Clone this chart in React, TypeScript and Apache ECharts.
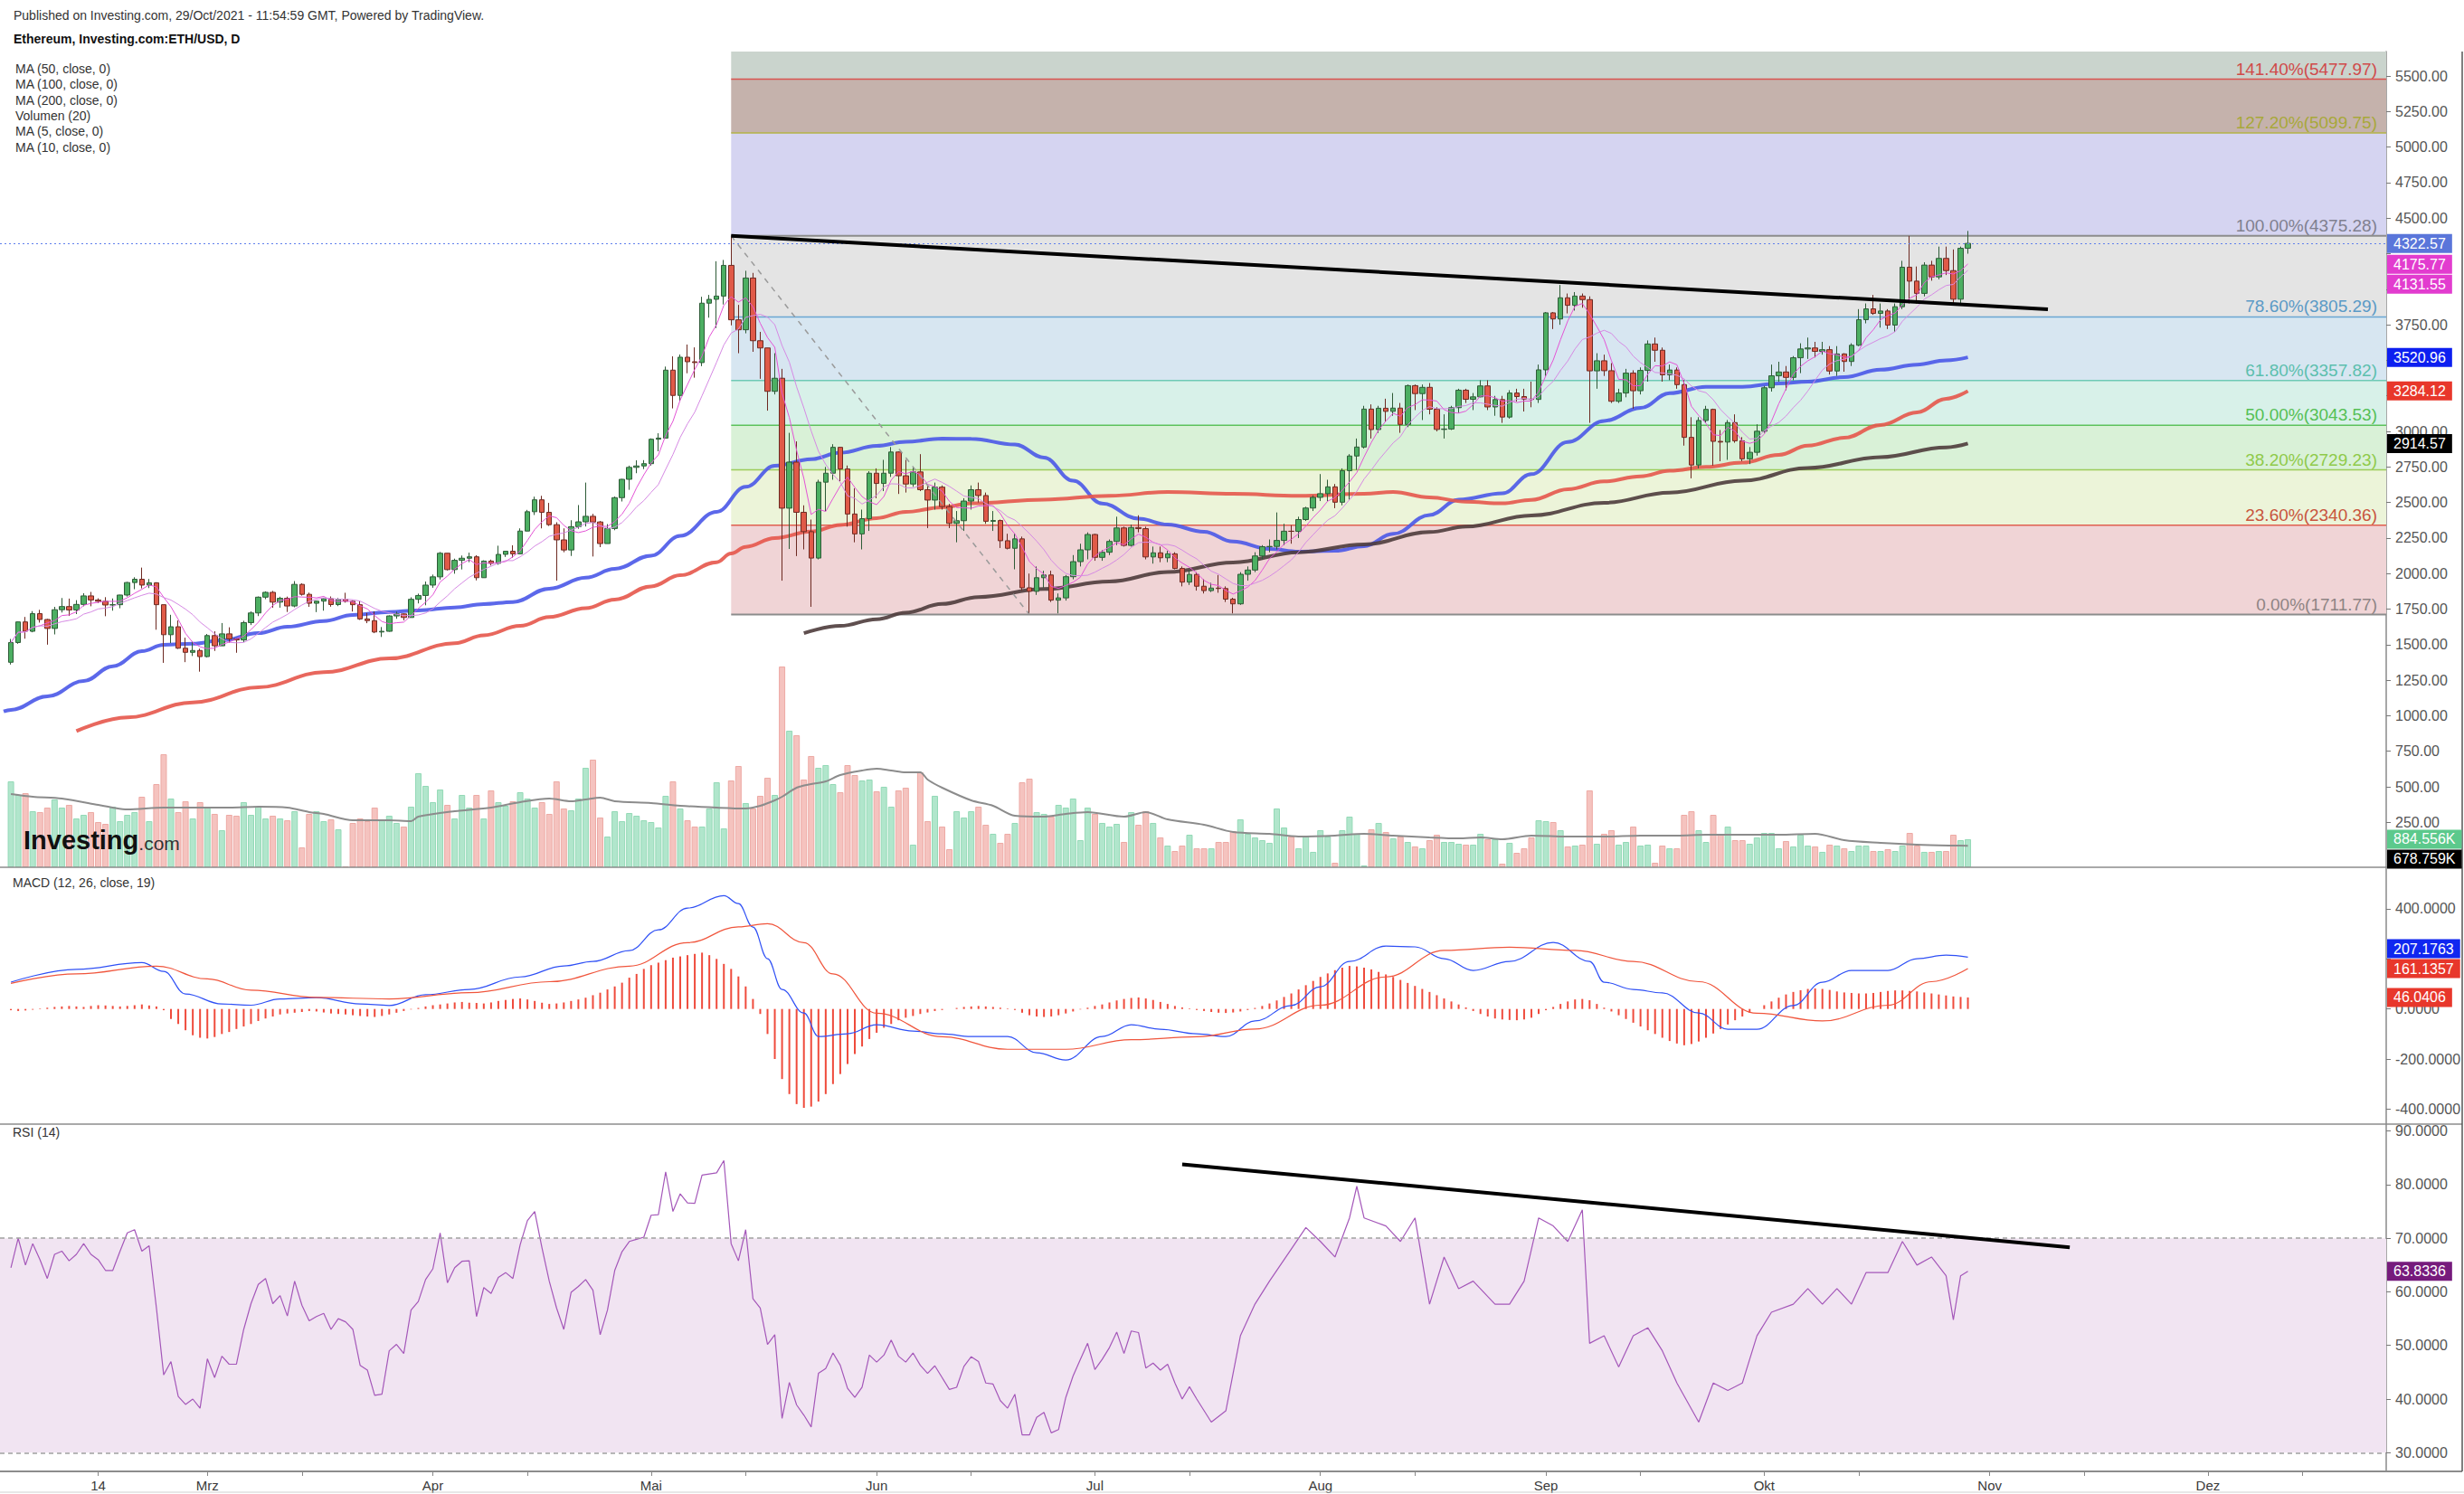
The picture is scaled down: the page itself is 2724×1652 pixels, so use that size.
import React, { useEffect, useRef } from 'react';
import * as echarts from 'echarts';

// ---------------- axis domain ----------------
const firstDay = '2021-02-01';
const dayCount = 328; // 2021-02-01 .. 2021-12-25
const tickLabels: [string, string][] = [
  ['2021-02-14', '14'], ['2021-03-01', 'Mrz'], ['2021-04-01', 'Apr'], ['2021-05-01', 'Mai'],
  ['2021-06-01', 'Jun'], ['2021-07-01', 'Jul'], ['2021-08-01', 'Aug'], ['2021-09-01', 'Sep'],
  ['2021-10-01', 'Okt'], ['2021-11-01', 'Nov'], ['2021-12-01', 'Dez'],
];
const minorTicks = ['2021-03-14', '2021-04-14', '2021-05-14', '2021-06-14', '2021-07-14', '2021-08-14',
  '2021-09-14', '2021-10-14', '2021-11-14', '2021-12-14'];
const firstCandleDay = 1; // 2021-02-02 (days since 2021-02-01)
const firstOpen = 1376;

// ---------------- daily candles (2021-02-02 .. 2021-10-29) ----------------
const closes = [
  1515, 1660, 1594, 1718, 1677, 1614, 1746, 1768, 1744, 1783, 1843, 1814, 1805, 1779, 1781, 1849, 1937, 1960, 1919, 1935, 1781, 1570, 1626, 1475, 1446, 1459, 1416,
  1564, 1492, 1576, 1541, 1533, 1655, 1723, 1834, 1868, 1799, 1826, 1772, 1924, 1854, 1791, 1806, 1823, 1782, 1819, 1805, 1781, 1681, 1669, 1589, 1594, 1702, 1716, 1691, 1819, 1846, 1919,
  1977, 2143, 2028, 2093, 2108, 2118, 1971, 2088, 2072, 2135, 2157, 2139, 2299, 2435, 2519, 2431, 2344, 2237, 2166, 2330, 2364, 2403, 2363, 2211, 2317, 2534, 2663, 2747, 2757, 2773,
  2945, 2953, 3431, 3253, 3522, 3490, 3484, 3902, 3929, 3952, 4168, 3785, 3715, 4079, 3638, 3587, 3282, 3374, 2460, 2784, 2431, 2295, 2109, 2643, 2706, 2888, 2736, 2419, 2279, 2386, 2706,
  2634, 2706, 2855, 2688, 2630, 2715, 2590, 2517, 2608, 2471, 2353, 2372, 2510, 2590, 2549, 2368, 2373, 2231, 2178, 2244, 1900, 1875, 1971, 1990, 1813, 1829, 1978, 2084, 2167, 2275,
  2114, 2150, 2226, 2321, 2198, 2324, 2316, 2117, 2146, 2111, 2139, 2036, 1940, 1994, 1911, 1880, 1898, 1895, 1820, 1787, 1995, 2025, 2124, 2189, 2191, 2233, 2298, 2297, 2380, 2461, 2536,
  2562, 2610, 2502, 2724, 2827, 2890, 3157, 3013, 3163, 3141, 3164, 3049, 3322, 3266, 3310, 3156, 3014, 3017, 3167, 3290, 3226, 3243, 3320, 3172, 3224, 3101, 3270, 3245, 3227, 3225, 3433,
  3834, 3791, 3940, 3887, 3952, 3927, 3426, 3497, 3427, 3212, 3270, 3410, 3286, 3429, 3615, 3571, 3398, 3432, 3329, 2958, 2764, 3077, 3155, 2930, 2925, 3062, 2934, 2807, 2853, 3001,
  3307, 3391, 3418, 3380, 3518, 3580, 3587, 3563, 3575, 3425, 3545, 3492, 3606, 3786, 3862, 3830, 3847, 3748, 3877, 4155, 4057, 3971, 4170, 4087, 4217, 4131, 3930, 4288, 4322.57,
];
const highs = [
  1540, 1661, 1695, 1736, 1745, 1681, 1766, 1828, 1824, 1813, 1862, 1871, 1826, 1834, 1825, 1851, 1942, 1974, 2042, 1962, 1939, 1780, 1710, 1670, 1549, 1525, 1472,
  1575, 1594, 1652, 1622, 1545, 1668, 1734, 1839, 1875, 1878, 1837, 1838, 1947, 1931, 1866, 1810, 1826, 1839, 1828, 1865, 1812, 1808, 1723, 1734, 1624, 1706, 1732, 1720, 1833, 1859, 1944,
  1993, 2152, 2144, 2105, 2127, 2147, 2129, 2093, 2098, 2196, 2158, 2199, 2318, 2448, 2541, 2547, 2497, 2361, 2318, 2375, 2482, 2640, 2420, 2370, 2348, 2542, 2666, 2759, 2797, 2798,
  2951, 2987, 3456, 3528, 3541, 3611, 3591, 3947, 3960, 4197, 4206, 4375, 3890, 4130, 4115, 3700, 3588, 3550, 3440, 2990, 2930, 2480, 2380, 2660, 2750, 2910, 2890, 2760, 2600, 2450, 2720,
  2740, 2800, 2890, 2860, 2800, 2745, 2840, 2620, 2640, 2620, 2490, 2440, 2530, 2620, 2640, 2570, 2440, 2380, 2280, 2280, 2260, 2000, 2050, 2020, 2020, 1860, 1990, 2130, 2210, 2290,
  2280, 2165, 2240, 2400, 2330, 2345, 2410, 2330, 2190, 2190, 2160, 2150, 2050, 2025, 2010, 1960, 1935, 1990, 1910, 1830, 2010, 2050, 2150, 2200, 2240, 2430, 2350, 2340, 2400, 2470, 2550,
  2700, 2660, 2630, 2740, 2840, 2950, 3180, 3190, 3180, 3230, 3270, 3200, 3330, 3330, 3330, 3340, 3170, 3120, 3180, 3300, 3300, 3270, 3360, 3360, 3250, 3250, 3290, 3300, 3300, 3350, 3470,
  3840, 3840, 4030, 3970, 3980, 3970, 3950, 3550, 3540, 3480, 3300, 3440, 3430, 3450, 3640, 3660, 3590, 3470, 3450, 3360, 3100, 3100, 3180, 3160, 3010, 3080, 3120, 2960, 2890, 3050,
  3320, 3470, 3490, 3460, 3530, 3620, 3660, 3630, 3630, 3600, 3600, 3550, 3620, 3860, 3900, 3960, 3900, 3860, 3900, 4200, 4375, 4160, 4190, 4200, 4300, 4300, 4280, 4300, 4410,
];
const lows = [
  1360, 1506, 1542, 1587, 1655, 1500, 1572, 1726, 1702, 1715, 1770, 1770, 1793, 1700, 1739, 1756, 1838, 1890, 1896, 1898, 1605, 1372, 1511, 1470, 1377, 1420, 1310,
  1410, 1456, 1491, 1512, 1443, 1518, 1638, 1701, 1820, 1759, 1760, 1730, 1763, 1845, 1766, 1729, 1739, 1767, 1771, 1796, 1733, 1674, 1651, 1581, 1554, 1591, 1682, 1671, 1690, 1790, 1777,
  1900, 1958, 2022, 1999, 2029, 2080, 1952, 1970, 2057, 2062, 2117, 2112, 2137, 2298, 2412, 2318, 2335, 1950, 2150, 2124, 2315, 2331, 2120, 2186, 2214, 2305, 2507, 2589, 2706, 2735,
  2760, 2860, 2955, 3162, 3213, 3409, 3378, 3459, 3800, 3727, 3893, 3746, 3550, 3690, 3560, 3370, 3146, 3260, 1950, 2173, 2123, 2170, 1766, 2100, 2440, 2660, 2650, 2330, 2220, 2170, 2300,
  2530, 2580, 2680, 2560, 2570, 2610, 2580, 2320, 2450, 2450, 2320, 2220, 2300, 2450, 2500, 2350, 2300, 2180, 2170, 2030, 1880, 1712, 1850, 1900, 1800, 1720, 1810, 1960, 2050, 2100,
  2090, 2090, 2130, 2200, 2190, 2190, 2290, 2100, 2070, 2080, 2080, 2030, 1910, 1920, 1880, 1860, 1870, 1865, 1800, 1720, 1780, 1950, 2010, 2100, 2150, 2170, 2200, 2210, 2250, 2370, 2440,
  2510, 2510, 2460, 2480, 2520, 2730, 2880, 2950, 2990, 3070, 3110, 2990, 3030, 3150, 3080, 3120, 3000, 2950, 3010, 3130, 3200, 3150, 3240, 3150, 3110, 3060, 3090, 3210, 3140, 3170, 3200,
  3390, 3720, 3750, 3830, 3850, 3870, 3060, 3300, 3390, 3200, 3200, 3240, 3160, 3260, 3350, 3490, 3350, 3360, 3300, 2900, 2670, 2740, 3060, 2760, 2790, 2800, 2920, 2790, 2770, 2830,
  2990, 3280, 3350, 3290, 3360, 3410, 3510, 3520, 3540, 3400, 3390, 3420, 3460, 3600, 3760, 3820, 3730, 3720, 3700, 3860, 3900, 3900, 3950, 4060, 4070, 4100, 3900, 3900, 4250,
];
// daily volume, thousands
const volumesK = [
  2708, 2280, 2337, 1767, 1739, 1881, 2138, 1881, 1967, 1539, 1653, 1739, 1425, 1368, 1910, 1454, 1653, 1739, 2223, 1454,
  2622, 3563, 2166, 1739, 2081, 1539, 2052, 1881, 1682, 1169, 1653, 1625, 2052, 1653, 1910, 1539, 1625, 1539, 1482, 1767,
  627, 1682, 1767, 1454, 1511, 1197, 29, 1397, 1539, 1454, 1881, 1482, 1625, 1397, 1283, 1910, 2964, 2565, 2052, 2451,
  1967, 1539, 2280, 1881, 2280, 1539, 2423, 2052, 1938, 2081, 2366, 2166, 1881, 2052, 1682, 2708, 1853, 1796, 2166, 3135,
  3392, 1568, 969, 1767, 1454, 1710, 1625, 1482, 1425, 1254, 2252, 2708, 1853, 1482, 1283, 1283, 1853, 2679, 1226, 2736,
  3192, 2024, 1853, 2252, 2822, 2280, 6327, 4304, 4161, 2765, 3506, 3135, 3221, 2622, 2366, 3221, 2907, 2736, 2765, 2394,
  2537, 1910, 2423, 2508, 713, 2993, 1454, 2252, 1283, 570, 1767, 1568, 1767, 1910, 1340, 1055, 770, 1055, 1397, 2679,
  2793, 1739, 1682, 1596, 1967, 1881, 2166, 855, 1881, 1682, 1397, 1283, 1368, 798, 1739, 1340, 1767, 1397, 941, 684,
  513, 684, 1026, 599, 599, 599, 798, 798, 1140, 1511, 1055, 941, 855, 770, 1853, 1254, 969, 599, 969, 485,
  1169, 969, 143, 1169, 1596, 1055, 57, 1197, 1397, 1112, 912, 969, 798, 656, 599, 855, 1026, 798, 798, 741,
  713, 713, 1055, 884, 884, 114, 770, 456, 599, 941, 1482, 1454, 1425, 1169, 656, 684, 713, 2423, 741, 1055,
  1169, 713, 798, 1283, 684, 713, 143, 684, 599, 599, 1653, 1767, 1169, 798, 1653, 1026, 1283, 855, 855, 741,
  941, 1083, 1083, 599, 827, 656, 1026, 684, 656, 485, 713, 684, 599, 513, 684, 684, 513, 513, 570, 513,
  684, 1083, 684, 485, 485, 513, 513, 1026, 855, 885,
];

// ---------------- indicator lines: [day since 2021-02-01, value] ----------------
const ma50Points = [[0, 1030], [1, 1041], [6, 1136], [11, 1244], [15, 1348], [19, 1454], [22, 1499], [26, 1507], [30, 1530], [35, 1581], [39, 1626], [44, 1666], [48, 1709], [53, 1730], [57, 1741], [62, 1762], [66, 1785], [70, 1800], [75, 1894], [80, 1971], [84, 2033], [89, 2126], [93, 2265], [98, 2434], [102, 2610], [106, 2758], [111, 2804], [115, 2850], [120, 2898], [124, 2927], [129, 2949], [133, 2948], [139, 2908], [143, 2816], [147, 2653], [151, 2493], [156, 2386], [160, 2345], [165, 2294], [169, 2225], [174, 2173], [178, 2154], [183, 2160], [187, 2192], [191, 2279], [196, 2412], [200, 2520], [206, 2564], [210, 2699], [215, 2925], [220, 3074], [225, 3165], [229, 3269], [234, 3314], [239, 3314], [244, 3338], [248, 3350], [253, 3382], [258, 3434], [263, 3470], [267, 3500], [270, 3521]];
const ma100Points = [[10, 892], [17, 989], [26, 1094], [35, 1200], [44, 1306], [53, 1403], [62, 1510], [66, 1566], [71, 1632], [75, 1694], [80, 1756], [84, 1817], [89, 1910], [93, 1988], [98, 2080], [100, 2141], [102, 2188], [106, 2250], [111, 2295], [115, 2342], [120, 2390], [124, 2434], [129, 2466], [133, 2494], [143, 2520], [152, 2547], [160, 2574], [169, 2561], [178, 2547], [187, 2561], [191, 2574], [196, 2536], [201, 2505], [206, 2494], [210, 2519], [215, 2593], [220, 2648], [225, 2684], [229, 2723], [234, 2750], [239, 2780], [244, 2835], [248, 2900], [253, 2955], [258, 3045], [263, 3134], [267, 3230], [270, 3284]];
const ma200Points = [[110, 1581], [115, 1632], [120, 1679], [124, 1725], [129, 1786], [134, 1835], [143, 1891], [152, 1944], [160, 2011], [169, 2078], [178, 2150], [187, 2205], [196, 2292], [201, 2330], [210, 2409], [220, 2498], [229, 2569], [239, 2653], [248, 2743], [258, 2819], [267, 2888], [270, 2915]];
const volMaPoints = [[1, 2309], [4, 2223], [8, 2166], [13, 1967], [15, 1881], [17, 1824], [22, 1881], [26, 1881], [31, 1881], [35, 1910], [39, 1881], [42, 1739], [44, 1682], [48, 1482], [53, 1482], [56, 1454], [57, 1596], [62, 1767], [67, 1881], [71, 2052], [75, 2166], [78, 2081], [80, 2138], [82, 2195], [84, 2081], [89, 2024], [93, 1938], [98, 1881], [102, 1853], [104, 1938], [106, 2109], [107, 2223], [109, 2508], [111, 2622], [113, 2708], [115, 2907], [118, 3050], [120, 3107], [122, 3050], [124, 2993], [126, 2993], [127, 2765], [129, 2508], [133, 2109], [136, 1938], [139, 1625], [143, 1596], [146, 1682], [149, 1739], [154, 1596], [157, 1739], [160, 1511], [165, 1340], [169, 1112], [174, 1055], [178, 969], [183, 998], [187, 1055], [191, 998], [196, 941], [200, 912], [203, 941], [206, 884], [210, 998], [215, 969], [220, 969], [225, 998], [230, 998], [234, 1026], [239, 1026], [244, 1026], [249, 1055], [253, 855], [258, 770], [263, 713], [268, 684], [270, 679]];
const macdPoints = [[1, 107], [10, 158], [19, 185], [22, 150], [25, 60], [30, 20], [34, 15], [38, 40], [43, 45], [49, 20], [53, 14], [58, 57], [64, 78], [71, 128], [77, 172], [81, 190], [86, 233], [90, 316], [94, 403], [99, 453], [101, 421], [103, 327], [105, 201], [107, 78], [110, -16], [112, -110], [116, -99], [120, -63], [125, -88], [129, -99], [133, -110], [138, -110], [142, -175], [146, -204], [151, -110], [155, -63], [159, -81], [164, -99], [168, -110], [172, -48], [177, 14], [181, 89], [185, 190], [190, 251], [194, 248], [198, 201], [202, 154], [207, 190], [213, 266], [218, 190], [220, 107], [224, 78], [228, 64], [233, -16], [237, -81], [241, -81], [246, 14], [250, 107], [254, 154], [259, 154], [263, 201], [267, 215], [270, 207.18]];
const signalPoints = [[1, 102], [10, 140], [21, 171], [28, 120], [34, 75], [43, 46], [53, 40], [64, 65], [75, 109], [86, 171], [94, 265], [101, 328], [105, 341], [110, 265], [114, 140], [120, -17], [129, -111], [138, -161], [146, -161], [155, -123], [164, -111], [172, -80], [181, 15], [190, 128], [198, 234], [207, 247], [216, 234], [224, 190], [233, 109], [241, -17], [250, -48], [259, 15], [265, 109], [270, 161.14]];
// MACD histogram, daily from 2021-02-02
const macdHist = [
  -5, -8, -6, -3, 2, 5, 8, 10, 12, 10, 8, 12, 15, 14, 12, 10, 12, 15, 18, 14,
  10, -5, -40, -60, -85, -105, -115, -118, -112, -100, -92, -80, -70, -60, -48, -38, -30, -22, -18, -15,
  -12, -8, -10, -14, -18, -20, -22, -25, -28, -30, -32, -28, -22, -15, -8, -2, 4, 10, 15, 18,
  22, 26, 28, 25, 24, 22, 26, 32, 36, 40, 42, 38, 32, 25, 20, 22, 26, 32, 38, 45,
  55, 65, 78, 90, 105, 125, 140, 160, 175, 185, 195, 205, 210, 215, 220, 225, 215, 200, 180, 160,
  130, 90, 40, -20, -100, -200, -280, -340, -380, -395, -390, -370, -340, -300, -260, -220, -180, -150, -120, -95,
  -75, -60, -45, -35, -28, -20, -14, -8, -4, 0, 4, 8, 10, 12, 10, 8, 5, 2, -4, -15,
  -25, -30, -32, -30, -25, -18, -10, -2, 5, 12, 18, 26, 34, 40, 44, 46, 42, 36, 28, 20,
  12, 6, 2, -4, -8, -12, -15, -16, -14, -10, -4, 4, 12, 22, 34, 48, 62, 78, 95, 112,
  128, 142, 155, 165, 172, 170, 165, 158, 148, 138, 128, 116, 104, 92, 80, 68, 55, 42, 30, 18,
  6, -8, -20, -30, -38, -42, -44, -45, -42, -35, -20, -5, 8, 20, 30, 38, 40, 35, 20, 5,
  -10, -25, -40, -55, -70, -85, -100, -115, -128, -138, -145, -140, -130, -115, -98, -80, -62, -45, -30, -15,
  0, 15, 30, 45, 58, 68, 75, 80, 82, 80, 76, 70, 66, 64, 62, 62, 64, 68, 72, 74,
  74, 72, 70, 66, 62, 58, 54, 50, 48, 46.04,
];
// RSI daily from 2021-02-02 (first 163 days), then points
const rsiDaily = [
  64.5, 70, 65, 69, 66, 62.5, 67, 67.6, 65.8, 67, 69, 67, 66, 64, 64, 67.6, 71, 71.6, 67.6, 68.6,
  57, 44.5, 47, 40.5, 39, 40, 38.3, 47.5, 44, 48, 46.5, 46.5, 53, 57.8, 61.4, 62.5, 57.8, 59.3, 55.5, 62,
  57.5, 54.6, 55.4, 56, 53, 55, 54.4, 53, 46.3, 45.4, 40.7, 40.9, 49, 50.2, 48.5, 56.6, 58.2, 62.3, 64.3, 71,
  61.7, 64.5, 65.7, 65.8, 55.4, 60.8, 59.7, 62.7, 63.6, 62.5, 68.8, 73.3, 75, 68.2, 62, 57, 53, 59.9, 61, 62.3,
  60.3, 52, 56.6, 64, 67.5, 69.4, 69.8, 70.2, 74.3, 74.4, 82.4, 75, 78.3, 76.6, 76.5, 81.8, 82, 82.2, 84.5, 69,
  65.8, 71.6, 58.7, 57, 50.2, 52, 36.4, 43.1, 38.9, 37, 34.8, 44.8, 45.7, 48.6, 46.3, 42, 40.3, 42.2, 48.2, 46.9,
  48.2, 51, 48, 46.9, 48.6, 46.3, 44.8, 46.2, 44, 41.8, 42.2, 46.1, 47.9, 47, 43, 42.8, 39.7, 38.3, 40.9, 33.3,
  33.3, 36.6, 37.5, 33.7, 34.3, 40.3, 44.3, 47.4, 50.4, 45.5, 47.4, 49.6, 52.5, 48.5, 52.7, 52.4, 45.8, 46.7, 45.4, 46.5,
  43, 40, 42.3,
];
const rsiLatePoints = [[164, 40], [166, 35.7], [168, 37.8], [170, 51.8], [172, 57.7], [174, 62], [177, 68], [179, 72], [181, 69.4], [183, 66.5], [185, 73.8], [186, 79.7], [187, 73.8], [190, 72.3], [192, 69.4], [194, 73.8], [196, 57.7], [198, 66.5], [200, 60.6], [202, 62], [205, 57.7], [207, 57.7], [209, 62], [211, 73.8], [213, 72.3], [215, 69.4], [217, 75.3], [218, 50.4], [220, 51.8], [222, 46], [224, 51.8], [226, 53.3], [228, 49], [230, 43], [233, 35.7], [235, 43], [237, 41.6], [239, 43], [241, 51.8], [243, 56.2], [246, 57.7], [248, 60.6], [250, 57.7], [252, 60.6], [254, 57.7], [256, 63.6], [259, 63.6], [261, 69.4], [263, 65], [265, 66.5], [267, 63], [268, 54.8], [269, 63], [270, 63.83]];

// ---------------- drawings ----------------
const fibStartDay = '2021-05-12';
const fibLevels = [0, 23.6, 38.2, 50, 61.8, 78.6, 100, 127.2, 141.4];
const fibPrices = [1711.77, 2340.36, 2729.23, 3043.53, 3357.82, 3805.29, 4375.28, 5099.75, 5477.97];
const priceTrend = [['2021-05-12', 4375.28], ['2021-11-09', 3859]];
const fibDiagonal = [['2021-05-12', 4375.28], ['2021-06-22', 1711.77]];
const rsiTrend = [['2021-07-13', 83.8], ['2021-11-12', 68.3]];

// ---------------- axis labels ----------------
const priceTicks = [250, 500, 750, 1000, 1250, 1500, 1750, 2000, 2250, 2500, 2750, 3000, 3250, 3500, 3750, 4000, 4250, 4500, 4750, 5000, 5250, 5500];
const priceLabels = [250, 500, 750, 1000, 1250, 1500, 1750, 2000, 2250, 2500, 2750, 3000, 3750, 4500, 4750, 5000, 5250, 5500];
const macdTicks = [-400, -200, 0, 200, 400];
const macdLabels = [-400, -200, 0, 400];
const rsiTicks = [30, 40, 50, 60, 70, 80, 90];
const priceBoxes = [
  { v: 4322.57, t: '4322.57', bg: '#5a76da' }, { v: 4175.77, t: '4175.77', bg: '#e23ccf' },
  { v: 4131.55, t: '4131.55', bg: '#e23ccf' }, { v: 3520.96, t: '3520.96', bg: '#0d1ff0' },
  { v: 3284.12, t: '3284.12', bg: '#e8372b' }, { v: 2914.57, t: '2914.57', bg: '#000000' },
];
const volumeBoxes = [{ v: 884.556, t: '884.556K', bg: '#5cc98c' }, { v: 678.759, t: '678.759K', bg: '#000000' }];
const macdBoxes = [{ v: 207.1763, t: '207.1763', bg: '#1027f0' }, { v: 161.1357, t: '161.1357', bg: '#e8372b' }, { v: 46.0406, t: '46.0406', bg: '#e8372b' }];
const rsiBoxes = [{ v: 63.8336, t: '63.8336', bg: '#761b7c' }];
const legendLines = ['MA (50, close, 0)', 'MA (100, close, 0)', 'MA (200, close, 0)', 'Volumen (20)', 'MA (5, close, 0)', 'MA (10, close, 0)'];

// ---------------- style ----------------
const FONT = "'Liberation Sans', Arial, Helvetica, sans-serif";
const W = 2724;
const PLOT_R = 2638;
const GRID_RIGHT = W - PLOT_R;
const PRICE_TOP = 57;
const fibFills = ['#f0d4d6', '#ecf4d9', '#d9f1d7', '#d8f1e9', '#d7e6f1', '#e4e4e4', '#d5d4f1', '#c5b2ac', '#cad4cd'];
const fibLineColors = ['#8c8c8c', '#e0604f', '#9ccc5a', '#5cc25c', '#6fcab6', '#6aa6d2', '#8c8c8c', '#b3b347', '#d9534f'];
const fibTextColors = ['#8e8484', '#c8553d', '#8fca4a', '#55c055', '#5cbfae', '#5b9ac6', '#80808f', '#a8a83a', '#d04a4a'];

function buildDays() {
  const out: string[] = [];
  const d = new Date(firstDay + 'T00:00:00Z');
  for (let i = 0; i < dayCount; i++) {
    out.push(d.toISOString().slice(0, 10));
    d.setUTCDate(d.getUTCDate() + 1);
  }
  return out;
}

function sma(n: number) {
  return closes.map((_, i) => {
    const s = closes.slice(Math.max(0, i - n + 1), i + 1);
    return [i + firstCandleDay, s.reduce((a, b) => a + b, 0) / s.length];
  });
}

function buildOption() {
  const cats = buildDays();
  const labelMap: Record<string, string> = Object.fromEntries(tickLabels);
  const tickSet = new Set([...tickLabels.map((t) => t[0]), ...minorTicks]);
  const opens = closes.map((c, i) => (i === 0 ? firstOpen : closes[i - 1]));
  const candle = closes.map((c, i) => [i + firstCandleDay, opens[i], c,
    Math.min(lows[i], opens[i], c), Math.max(highs[i], opens[i], c)]);
  const vol = volumesK.map((v, i) => {
    const up = closes[i] >= opens[i];
    return { value: [i + firstCandleDay, v], itemStyle: { color: up ? '#b1e6cc' : '#f5c3bf', borderColor: up ? '#93d9b6' : '#eda9a4', borderWidth: 1 } };
  });
  const hist = macdHist.map((v, i) => [i + firstCandleDay, v]);
  const rsi = rsiDaily.map((v, i) => [i + firstCandleDay, v]).concat(rsiLatePoints);

  const xBase = (gi: number) => ({
    type: 'category', gridIndex: gi, data: cats, boundaryGap: true,
    axisLine: { show: false }, axisTick: { show: false }, axisLabel: { show: false }, splitLine: { show: false },
  });
  const yBase = (gi: number, min: number, max: number, ticks: number[], labels: number[], dec: number) => ({
    type: 'value', gridIndex: gi, position: 'right', min, max, scale: false,
    axisLine: { show: true, lineStyle: { color: '#8a8a8a', width: 1.5 } },
    axisTick: { show: true, length: 5, customValues: ticks, lineStyle: { color: '#777' } },
    axisLabel: { show: true, customValues: labels, formatter: (v: number) => Number(v).toFixed(dec), color: '#555', fontSize: 16, fontFamily: FONT, margin: 10 },
    splitLine: { show: false },
  });
  const thickLine = (data: any, color: string) => ({
    type: 'line', xAxisIndex: 0, yAxisIndex: 0, data, symbol: 'none', smooth: 0.4, smoothMonotone: 'x', z: 2,
    lineStyle: { color, width: 4, opacity: 0.9 }, silent: true,
  });
  return {
    animation: false,
    backgroundColor: '#ffffff',
    grid: [
      { left: 0, right: GRID_RIGHT, top: PRICE_TOP, height: 902 },
      { left: 0, right: GRID_RIGHT, top: 729, height: 230 },
      { left: 0, right: GRID_RIGHT, top: 959, height: 284 },
      { left: 0, right: GRID_RIGHT, top: 1243, height: 384 },
    ],
    xAxis: [xBase(0), xBase(1), xBase(2), {
      ...xBase(3),
      axisTick: { show: true, alignWithLabel: true, length: 5, interval: (_i: number, v: string) => tickSet.has(v), lineStyle: { color: '#888' } },
      axisLabel: { show: true, interval: (_i: number, v: string) => v in labelMap, formatter: (v: string) => labelMap[v] || '', color: '#3a3a3a', fontSize: 15, fontFamily: FONT, margin: 8 },
    }],
    yAxis: [
      yBase(0, -66, 5672, priceTicks, priceLabels, 2),
      { type: 'value', gridIndex: 1, min: 0, max: 6555, show: false, splitLine: { show: false } },
      yBase(2, -460, 566, macdTicks, macdLabels, 4),
      yBase(3, 26.5, 91.3, rsiTicks, rsiTicks, 4),
    ],
    series: [
      thickLine(ma50Points, '#4a58e8'),
      thickLine(ma100Points, '#e5574b'),
      thickLine(ma200Points, '#4e3c3c'),
      {
        type: 'candlestick', xAxisIndex: 0, yAxisIndex: 0, data: candle, encode: { x: 0, y: [1, 2, 3, 4] }, barWidth: 6, z: 3,
        itemStyle: { color: '#4caf62', color0: '#e05a48', borderColor: '#2e5b37', borderColor0: '#6d2a22', borderWidth: 1 },
        markLine: {
          silent: true, symbol: ['none', 'none'], label: { show: false },
          lineStyle: { type: [2, 3], color: '#5f7fec', width: 1.2 },
          data: [{ yAxis: closes[closes.length - 1] }],
        },
      },
      { type: 'line', xAxisIndex: 0, yAxisIndex: 0, data: sma(5), symbol: 'none', z: 4, lineStyle: { color: '#e454d6', width: 1 }, silent: true },
      { type: 'line', xAxisIndex: 0, yAxisIndex: 0, data: sma(10), symbol: 'none', z: 4, lineStyle: { color: '#d68ae4', width: 1 }, silent: true },
      { type: 'line', xAxisIndex: 0, yAxisIndex: 0, data: fibDiagonal, symbol: 'none', z: 4, lineStyle: { color: '#9a9a9a', width: 1.5, type: [6, 6] }, silent: true },
      { type: 'line', xAxisIndex: 0, yAxisIndex: 0, data: priceTrend, symbol: 'none', z: 6, lineStyle: { color: '#000', width: 4 }, silent: true },
      { type: 'bar', xAxisIndex: 1, yAxisIndex: 1, data: vol, barWidth: 7, z: 1, silent: true },
      { type: 'line', xAxisIndex: 1, yAxisIndex: 1, data: volMaPoints, symbol: 'none', z: 3, smooth: 0.3, lineStyle: { color: '#8c8c8c', width: 2 }, silent: true },
      { type: 'bar', xAxisIndex: 2, yAxisIndex: 2, data: hist, barWidth: 2, itemStyle: { color: '#ef4b3c' }, silent: true },
      { type: 'line', xAxisIndex: 2, yAxisIndex: 2, data: macdPoints, symbol: 'none', smooth: 0.4, smoothMonotone: 'x', lineStyle: { color: '#2f50f5', width: 1.2 }, silent: true },
      { type: 'line', xAxisIndex: 2, yAxisIndex: 2, data: signalPoints, symbol: 'none', smooth: 0.4, smoothMonotone: 'x', lineStyle: { color: '#f0553c', width: 1.2 }, silent: true },
      {
        type: 'line', xAxisIndex: 3, yAxisIndex: 3, data: rsi, symbol: 'none', z: 3, lineStyle: { color: '#a457b9', width: 1.2 }, silent: true,
        markArea: { silent: true, itemStyle: { color: '#f1e4f2' }, data: [[{ yAxis: 30 }, { yAxis: 70 }]] },
        markLine: {
          silent: true, symbol: ['none', 'none'], label: { show: false },
          lineStyle: { type: [5, 4], color: '#a0a0a0', width: 1.5 }, data: [{ yAxis: 70 }, { yAxis: 30 }],
        },
      },
      { type: 'line', xAxisIndex: 3, yAxisIndex: 3, data: rsiTrend, symbol: 'none', z: 6, lineStyle: { color: '#000', width: 4 }, silent: true },
    ],
  };
}

function textEl(x: number, y: number, text: string, font: string, fill: string, align = 'left', z = 60) {
  return {
    type: 'text', z, silent: true, x, y,
    style: { text, font, fill, textAlign: align, align, textVerticalAlign: 'middle', verticalAlign: 'middle' },
  };
}

function buildGraphics(chart: any) {
  const els: any[] = [];
  const yPix = (axis: number, v: number) => chart.convertToPixel({ yAxisIndex: axis }, v);
  const x0 = chart.convertToPixel({ xAxisIndex: 0 }, fibStartDay);

  // fibonacci bands, lines, labels
  fibPrices.forEach((p, i) => {
    const yLo = yPix(0, p);
    const yHi = i + 1 < fibPrices.length ? yPix(0, fibPrices[i + 1]) : PRICE_TOP;
    els.push({ type: 'rect', z: 1, silent: true, shape: { x: x0, y: yHi, width: PLOT_R - x0, height: yLo - yHi }, style: { fill: fibFills[i] } });
  });
  fibPrices.forEach((p, i) => {
    const y = yPix(0, p);
    els.push({ type: 'line', z: 1, silent: true, shape: { x1: x0, y1: y, x2: PLOT_R, y2: y }, style: { stroke: fibLineColors[i], lineWidth: i === 0 || i === 6 ? 2 : 1.5 } });
    els.push({
      type: 'text', z: 7, silent: true, x: PLOT_R - 10, y: y - 2,
      style: { text: `${fibLevels[i].toFixed(2)}%(${p.toFixed(2)})`, font: `19px ${FONT}`, fill: fibTextColors[i], textAlign: 'right', align: 'right', textVerticalAlign: 'bottom', verticalAlign: 'bottom' },
    });
  });

  // value boxes on the right axis
  const placeBoxes = (axis: number, list: any[], dir: 'down' | 'up') => {
    const items = list.map((b) => ({ ...b, y: yPix(axis, b.v) })).sort((a, b) => a.y - b.y);
    if (dir === 'down') {
      for (let i = 1; i < items.length; i++) if (items[i].y - items[i - 1].y < 22) items[i].y = items[i - 1].y + 22;
    } else {
      for (let i = items.length - 2; i >= 0; i--) if (items[i + 1].y - items[i].y < 22) items[i].y = items[i + 1].y - 22;
    }
    items.forEach((b) => {
      els.push({
        type: 'text', z: 100, silent: true, x: PLOT_R + 1, y: b.y,
        style: { text: b.t, font: `16px ${FONT}`, fill: '#ffffff', backgroundColor: b.bg, padding: [3, 7, 2, 7], textAlign: 'left', align: 'left', textVerticalAlign: 'middle', verticalAlign: 'middle' },
      });
    });
  };
  placeBoxes(0, priceBoxes, 'down');
  placeBoxes(1, volumeBoxes, 'down');
  placeBoxes(2, macdBoxes, 'up');
  placeBoxes(3, rsiBoxes, 'down');

  // frame lines
  const line = (x1: number, y1: number, x2: number, y2: number, stroke: string, w: number) =>
    ({ type: 'line', z: 90, silent: true, shape: { x1, y1, x2, y2 }, style: { stroke, lineWidth: w } });
  els.push(line(0, 959, 2722, 959, '#8c8c8c', 1.5));
  els.push(line(0, 1243, 2722, 1243, '#8c8c8c', 1.5));
  els.push(line(0, 1627, 2722, 1627, '#8c8c8c', 2));
  els.push(line(2722, PRICE_TOP, 2722, 1627, '#555555', 1.5));
  els.push(line(0, 1650, 2724, 1650, '#d0d0d0', 1));

  // header + legends
  els.push(textEl(15, 17, 'Published on Investing.com, 29/Oct/2021 - 11:54:59 GMT, Powered by TradingView.', `14px ${FONT}`, '#333'));
  els.push(textEl(15, 43, 'Ethereum, Investing.com:ETH/USD, D', `bold 14px ${FONT}`, '#111'));
  legendLines.forEach((t, i) => els.push(textEl(17, 76 + i * 17.3, t, `14px ${FONT}`, '#333')));
  els.push(textEl(14, 976, 'MACD (12, 26, close, 19)', `14px ${FONT}`, '#333'));
  els.push(textEl(14, 1252, 'RSI (14)', `14px ${FONT}`, '#333'));

  // watermark logo
  els.push({
    type: 'text', z: 80, silent: true, x: 26, y: 929,
    style: {
      text: '{a|Investing}{b|.com}', textVerticalAlign: 'middle', verticalAlign: 'middle',
      rich: { a: { font: `bold 29px ${FONT}`, fill: '#111' }, b: { font: `21px ${FONT}`, fill: '#333', padding: [6, 0, 0, 0] } },
    },
  });
  return els;
}

export default function App() {
  const ref = useRef<HTMLDivElement>(null);
  useEffect(() => {
    document.body.style.margin = '0';
    const chart = echarts.init(ref.current as HTMLDivElement, null, { renderer: 'svg' });
    chart.setOption(buildOption() as any);
    chart.setOption({ graphic: buildGraphics(chart) } as any);
    return () => chart.dispose();
  }, []);
  return <div ref={ref} style={{ width: W, height: 1652, background: '#fff' }} />;
}
